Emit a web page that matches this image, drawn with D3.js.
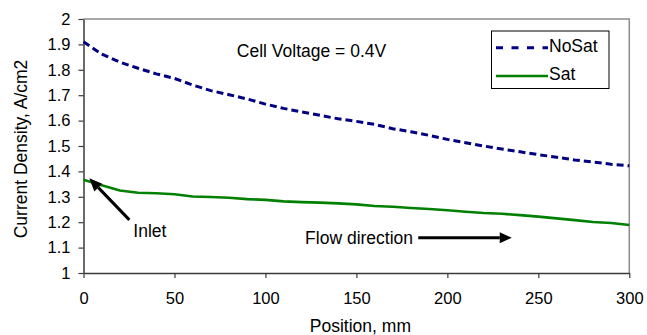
<!DOCTYPE html>
<html>
<head>
<meta charset="utf-8">
<script src="https://cdn.jsdelivr.net/npm/d3@7"></script>
<style>
html,body{margin:0;padding:0;background:#fff;}
svg{display:block;font-family:"Liberation Sans",Arial,sans-serif;}
</style>
</head>
<body>
<svg id="chart" width="647" height="335"></svg>
<script>
const positions = [0,10,20,30,40,50,60,70,80,90,100,110,120,130,140,150,160,170,180,190,200,210,220,230,240,250,260,270,280,290,300];
const noSat = [1.910,1.862,1.830,1.806,1.784,1.766,1.740,1.718,1.702,1.685,1.665,1.648,1.634,1.621,1.607,1.597,1.585,1.568,1.556,1.542,1.526,1.513,1.500,1.488,1.477,1.466,1.456,1.445,1.437,1.428,1.422];
const sat = [1.367,1.345,1.325,1.316,1.314,1.310,1.301,1.299,1.296,1.291,1.288,1.282,1.279,1.277,1.274,1.270,1.264,1.261,1.256,1.252,1.247,1.241,1.236,1.233,1.228,1.222,1.215,1.208,1.201,1.197,1.189];
const xTicks = [0,50,100,150,200,250,300];
const yTicks = [1,1.1,1.2,1.3,1.4,1.5,1.6,1.7,1.8,1.9,2];
const yTickLabels = ["1","1.1","1.2","1.3","1.4","1.5","1.6","1.7","1.8","1.9","2"];
const seriesNames = ["NoSat","Sat"];

const svg = d3.select("#chart");
const L = 83.5, R = 629.3, T = 19, B = 273;
const x = d3.scaleLinear().domain([0,300]).range([L,R]);
const y = d3.scaleLinear().domain([1,2]).range([B,T]);
const fs = 16.5;
const fa = "17.5px";

// top & right border
svg.append("path")
  .attr("d", `M${L},${T}H${R}V${B}`)
  .attr("fill","none").attr("stroke","#8c8c8c").attr("stroke-width",1.5);

// axes
const yAxis = d3.axisLeft(y).tickValues(yTicks).tickSize(5).tickSizeOuter(0).tickPadding(8)
  .tickFormat((d,i)=>yTickLabels[i]);
const gy = svg.append("g").attr("transform",`translate(${L},0)`).call(yAxis);
const xAxis = d3.axisBottom(x).tickValues(xTicks).tickSize(5).tickSizeOuter(0).tickPadding(14.5)
  .tickFormat(d3.format("d"));
const gx = svg.append("g").attr("transform",`translate(0,${B})`).call(xAxis);
[gx,gy].forEach(g=>{
  g.select(".domain").attr("stroke","#3a3a3a").attr("stroke-width",1.5);
  g.selectAll(".tick line").attr("stroke","#3a3a3a").attr("stroke-width",1.2);
  g.selectAll(".tick text").attr("fill","#000").style("font-size",fs+"px")
    .style("font-family",'"Liberation Sans",Arial,sans-serif');
});

// lines
const line = vals => d3.line().x((d,i)=>x(positions[i])).y(d=>y(d))(vals);
svg.append("path").attr("d",line(sat)).attr("fill","none")
  .attr("stroke","#008000").attr("stroke-width",2.6);
svg.append("path").attr("d",line(noSat)).attr("fill","none")
  .attr("stroke","#000080").attr("stroke-width",3).attr("stroke-dasharray","7,4");

// axis titles
svg.append("text").attr("x",(L+R)/2+4).attr("y",332).attr("text-anchor","middle")
  .style("font-size",fa).text("Position, mm");
svg.append("text").attr("transform",`translate(27,${(T+B)/2+3}) rotate(-90)`)
  .attr("text-anchor","middle").style("font-size",fa).text("Current Density, A/cm2");

// annotation
svg.append("text").attr("x",x(84.3)).attr("y",56.7).style("font-size",fa).text("Cell Voltage = 0.4V");

// arrows
function arrow(x1,y1,x2,y2,len,half){
  const ang = Math.atan2(y2-y1,x2-x1);
  const bx = x2-len*Math.cos(ang), by = y2-len*Math.sin(ang);
  svg.append("line").attr("x1",x1).attr("y1",y1).attr("x2",bx).attr("y2",by)
    .attr("stroke","#000").attr("stroke-width",3);
  const px = -Math.sin(ang)*half, py = Math.cos(ang)*half;
  svg.append("path").attr("d",`M${x2},${y2}L${bx+px},${by+py}L${bx-px},${by-py}Z`).attr("fill","#000");
}
arrow(x(25.2),y(1.209),x(3.2),y(1.373),13,5.5);
arrow(x(184),y(1.139),x(235.4),y(1.139),12,5.5);
svg.append("text").attr("x",x(27.4)).attr("y",236.7).style("font-size",fa).text("Inlet");
svg.append("text").attr("x",x(121.8)).attr("y",244).style("font-size",fa).text("Flow direction");

// legend
const lg = svg.append("g");
lg.append("rect").attr("x",491.5).attr("y",31).attr("width",117.5).attr("height",57.5)
  .attr("fill","#fff").attr("stroke","#000").attr("stroke-width",1);
const legendStyles = [{c:"#000080",w:3,dash:"7,8.5",ly:47.7,ty:52},{c:"#008000",w:2.6,dash:null,ly:76,ty:80}];
seriesNames.forEach((n,i)=>{
  const s = legendStyles[i];
  const l = lg.append("line").attr("x1",496).attr("x2",548).attr("y1",s.ly).attr("y2",s.ly)
    .attr("stroke",s.c).attr("stroke-width",s.w);
  if(s.dash) l.attr("stroke-dasharray",s.dash);
  lg.append("text").attr("x",549).attr("y",s.ty).style("font-size",fa).text(n);
});
</script>
</body>
</html>
